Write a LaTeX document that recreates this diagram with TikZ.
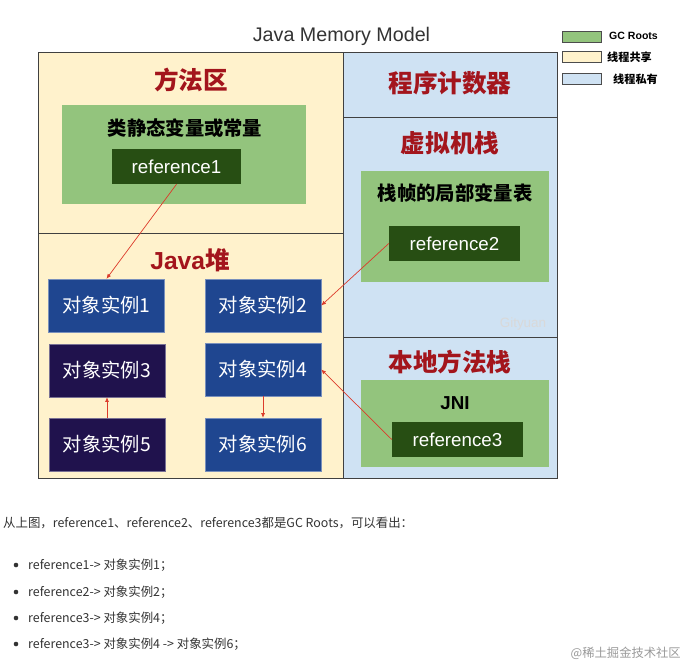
\documentclass[tikz,border=0pt]{standalone}
\usepackage{fontspec}
\setmainfont{Liberation Sans}
\newfontfamily\cjk{Noto Sans CJK SC}
\usetikzlibrary{arrows.meta,positioning}

\newlength\pxu
\setlength\pxu{0.03cm}

\definecolor{shared}{HTML}{FFF2CC}
\definecolor{private}{HTML}{CFE2F3}
\definecolor{gcroot}{HTML}{93C47D}
\definecolor{refgreen}{HTML}{274E13}
\definecolor{objblue}{HTML}{1F4690}
\definecolor{objnavy}{HTML}{20124D}
\definecolor{titlered}{HTML}{A3151C}
\definecolor{linkred}{HTML}{DC3B2B}
\definecolor{bodytext}{HTML}{333333}

\begin{document}
\begin{tikzpicture}[x=\pxu,y=-\pxu,
  region/.style={draw=black!75,line width=0.8pt,inner sep=0pt,anchor=north west},
  areatitle/.style={text=titlered,font=\cjk\bfseries\fontsize{21pt}{24pt}\selectfont},
  rootbox/.style={fill=gcroot,inner sep=0pt},
  rootlabel/.style={font=\cjk\bfseries\fontsize{16.5pt}{19pt}\selectfont},
  refbox/.style={fill=refgreen,text=white,inner sep=0pt,minimum height=35*\pxu,
                 font=\fontsize{16pt}{19pt}\selectfont},
  objbox/.style={fill=objblue,draw=objblue!60,text=white,inner sep=0pt,
                 minimum width=116*\pxu,minimum height=53*\pxu,
                 font=\cjk\fontsize{16.5pt}{19pt}\selectfont},
  link/.style={-{Latex[length=4pt,width=3.5pt]},linkred,line width=0.6pt},
  swatch/.style={draw=black!70,line width=0.6pt,minimum width=39*\pxu,minimum height=11*\pxu,inner sep=0pt},
  keytext/.style={anchor=west,inner sep=0pt,font=\cjk\bfseries\fontsize{9.5pt}{11pt}\selectfont},
  prose/.style={anchor=west,inner sep=0pt,text=bodytext,font=\cjk\fontsize{10.6pt}{13pt}\selectfont},
]
\useasboundingbox (0,0) rectangle (684,666);

% title and legend
\node[text=bodytext,font=\fontsize{16.8pt}{19pt}\selectfont] (title) at (341.5,36) {Java Memory Model};
\node[swatch,fill=gcroot] (keyroot) at (581.5,36.5) {};
\node[swatch,fill=shared] (keyshared) at (581.5,57) {};
\node[swatch,fill=private] (keyprivate) at (581.5,79) {};
\node[keytext,font=\bfseries\fontsize{9pt}{11pt}\selectfont] (keyroottext) at (609,36) {GC Roots};
\node[keytext] (keysharedtext) at (607,57) {线程共享};
\node[keytext] (keyprivatetext) at (613,79) {线程私有};

% memory areas
\node[region,fill=shared,minimum width=305*\pxu,minimum height=181*\pxu] (methodarea) at (38,52) {};
\node[region,fill=shared,minimum width=305*\pxu,minimum height=245*\pxu] (heap) at (38,233) {};
\node[region,fill=private,minimum width=214*\pxu,minimum height=65*\pxu] (pc) at (343,52) {};
\node[region,fill=private,minimum width=214*\pxu,minimum height=220*\pxu] (vmstack) at (343,117) {};
\node[region,fill=private,minimum width=214*\pxu,minimum height=141*\pxu] (nativestack) at (343,337) {};

\node[areatitle] (methodtitle) at (191,80) {方法区};
\node[areatitle] (heaptitle) at (190,260) {{\rmfamily Java}堆};
\node[areatitle] (pctitle) at (450,83) {程序计数器};
\node[areatitle] (vmtitle) at (450,143) {虚拟机栈};
\node[areatitle] (nativetitle) at (450,362) {本地方法栈};

% GC roots
\node[rootbox,minimum width=244*\pxu,minimum height=99*\pxu] (statics) at (184,154.5) {};
\node[rootlabel] (staticstext) at (185,128) {类静态变量或常量};
\node[refbox,minimum width=129*\pxu] (ref1) at (176.5,166.5) {reference1};

\node[rootbox,minimum width=188*\pxu,minimum height=111*\pxu] (locals) at (455,226.5) {};
\node[rootlabel] (localstext) at (455,193) {栈帧的局部变量表};
\node[refbox,minimum width=131*\pxu] (ref2) at (454.5,243.5) {reference2};
\node[text=black!15,font=\fontsize{11.5pt}{13pt}\selectfont] (mark) at (523,324) {Gityuan};

\node[rootbox,minimum width=188*\pxu,minimum height=87*\pxu] (jni) at (455,423.5) {};
\node[rootlabel,font=\bfseries\fontsize{16pt}{19pt}\selectfont] (jnitext) at (455,403) {JNI};
\node[refbox,minimum width=131*\pxu] (ref3) at (457.5,439.5) {reference3};

% heap objects
\node[objbox] (obj1) at (106.5,305.5) {对象实例1};
\node[objbox] (obj2) at (263,305.5) {对象实例2};
\node[objbox,fill=objnavy,draw=objnavy!60] (obj3) at (107,370.5) {对象实例3};
\node[objbox] (obj4) at (263,369.5) {对象实例4};
\node[objbox,fill=objnavy,draw=objnavy!60] (obj5) at (107,444.5) {对象实例5};
\node[objbox] (obj6) at (263,444.5) {对象实例6};

\draw[link] (ref1.south) -- (obj1.north);
\draw[link] (ref2.west) -- (obj2.east);
\draw[link] (ref3.west) -- (obj4.east);
\draw[link] (obj5.north) -- (obj3.south);
\draw[link] (obj4.south) -- (obj6.north);

% text below the figure
\node[prose] (summary) at (3,523) {从上图，reference1、reference2、reference3都是GC Roots，可以看出：};
\fill[bodytext] (16,565) circle (2.3);
\fill[bodytext] (16,592) circle (2.3);
\fill[bodytext] (16,618) circle (2.3);
\fill[bodytext] (16,644) circle (2.3);
\node[prose] (item1) at (28,565) {reference1-> 对象实例1；};
\node[prose] (item2) at (28,592) {reference2-> 对象实例2；};
\node[prose] (item3) at (28,618) {reference3-> 对象实例4；};
\node[prose] (item4) at (28,644) {reference3-> 对象实例4 -> 对象实例6；};
\node[anchor=east,inner sep=0pt,text=black!40,font=\cjk\fontsize{10.5pt}{12pt}\selectfont] (site) at (681,653) {@稀土掘金技术社区};
\end{tikzpicture}
\end{document}
